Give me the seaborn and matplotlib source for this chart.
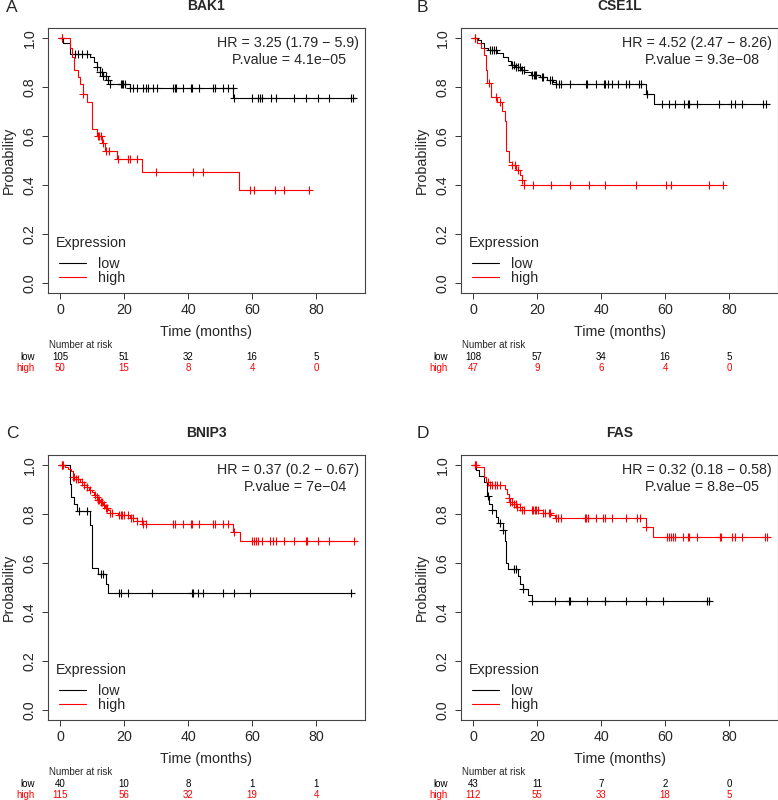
import numpy as np
import pandas as pd
import matplotlib
matplotlib.use("Agg")
import matplotlib.pyplot as plt
import seaborn as sns

# ---- data ----
genes = ["BAK1", "CSE1L", "BNIP3", "FAS"]
letters = ["A", "B", "C", "D"]
hr_text = ["HR = 3.25 (1.79 \u2212 5.9)", "HR = 4.52 (2.47 \u2212 8.26)",
           "HR = 0.37 (0.2 \u2212 0.67)", "HR = 0.32 (0.18 \u2212 0.58)"]
p_text = ["P.value = 4.1e\u221205", "P.value = 9.3e\u221208",
          "P.value = 7e\u221204", "P.value = 8.8e\u221205"]
risk_times = [0, 20, 40, 60, 80]

# A - BAK1
a_low_t = [0, 1, 3, 9.4, 10.5, 11.5, 12.5, 13.5, 14.5, 15.6, 21.9, 54.2, 92.5]
a_low_s = [1.0, 0.98, 0.935, 0.92, 0.90, 0.88, 0.86, 0.845, 0.83, 0.81, 0.795, 0.755, 0.755]
a_low_c = [0.5, 4.7, 5.7, 6.8, 8.5, 11.5, 12.5, 13, 13.5, 14.4, 15.1, 15.6, 19, 19.4, 19.8,
           20.3, 21.9, 22.7, 24, 25.8, 26.8, 27.6, 29, 30.2, 35.4, 35.8, 36.3, 38.3, 40.8,
           41.3, 43.5, 47.9, 48.4, 51, 52.4, 53.9, 54.5, 60.1, 62, 62.5, 63, 65.8, 67.5,
           73.1, 76.9, 80.7, 83.9, 91, 91.4]
a_high_t = [0, 3.1, 3.6, 4.4, 5.7, 6.3, 7.3, 8.5, 9.9, 11.5, 13, 14, 17.9, 25.7, 56, 77.9]
a_high_s = [1.0, 0.96, 0.92, 0.87, 0.84, 0.81, 0.77, 0.74, 0.63, 0.60, 0.57, 0.54, 0.505,
            0.455, 0.38, 0.38]
a_high_c = [0.5, 7.3, 11.8, 12.3, 12.8, 13.5, 14.4, 15.4, 18.2, 21.4, 21.9, 24.2, 29.9,
            41.5, 44.8, 59.4, 60.6, 67.2, 70.1, 77.9]
a_risk_low = [105, 51, 32, 16, 5]
a_risk_high = [50, 15, 8, 4, 0]

# B - CSE1L
b_low_t = [0, 1.5, 2.5, 3.5, 4.7, 7.5, 9.5, 11, 12, 13, 15, 16, 18, 21, 23, 25, 26,
           54.2, 56.5, 92.5]
b_low_s = [1.0, 0.99, 0.98, 0.96, 0.95, 0.94, 0.92, 0.905, 0.89, 0.88, 0.87, 0.86, 0.85,
           0.84, 0.83, 0.82, 0.81, 0.77, 0.73, 0.73]
b_low_c = [0.5, 5.2, 5.9, 6.6, 7.3, 12.2, 12.7, 13.3, 14.1, 14.6, 15.4, 15.8, 18.5, 19,
           19.4, 19.8, 21.5, 21.9, 24, 24.8, 26, 26.9, 27.6, 30.2, 35.2, 35.7, 38.3, 40.8,
           41.3, 42.2, 43.5, 45.3, 47.9, 48.8, 51.9, 52.6, 54.3, 59.2, 61.2, 63, 65.8, 67.2,
           67.5, 70.1, 77, 80.7, 81.8, 83.9, 90.6, 91.6]
b_high_t = [0, 1.2, 2.6, 3.4, 4.2, 4.4, 5.7, 7.5, 9.1, 9.9, 10.4, 11.3, 12.3, 13.3, 14.6,
            15.4, 15.9, 78]
b_high_s = [1.0, 0.98, 0.96, 0.93, 0.87, 0.815, 0.76, 0.74, 0.70, 0.66, 0.54, 0.495, 0.48,
            0.46, 0.44, 0.42, 0.40, 0.40]
b_high_c = [0.5, 4.9, 7.1, 8.5, 12.3, 13, 14.1, 15.4, 15.9, 18.8, 24.3, 30.2, 36.3, 41.1,
            51, 60.2, 62, 73.6, 78]
b_risk_low = [108, 57, 34, 16, 5]
b_risk_high = [47, 9, 6, 4, 0]

# C - BNIP3
c_low_t = [0, 3.1, 3.3, 4.4, 5.2, 9.4, 10.1, 12, 14.4, 15.1, 91.5]
c_low_s = [1.0, 0.92, 0.87, 0.84, 0.81, 0.755, 0.578, 0.555, 0.514, 0.478, 0.478]
c_low_c = [0.5, 6, 8.5, 12.8, 13.5, 18.5, 19, 21.4, 28.6, 41.4, 41.7, 43.2, 44.8, 51,
           54.5, 59.4, 91]
c_high_t = [0, 1.5, 2.5, 3.3, 4.0, 5.0, 6.3, 7.5, 8.3, 9.2, 9.9, 10.7, 11.5, 12.0, 12.5,
            13.3, 14.1, 15.0, 15.6, 18.2, 21.9, 24.0, 25.8, 53.9, 56.1, 92.5]
c_high_s = [1.0, 0.99, 0.982, 0.973, 0.952, 0.943, 0.93, 0.918, 0.908, 0.898, 0.888, 0.878,
            0.867, 0.857, 0.847, 0.837, 0.826, 0.816, 0.803, 0.796, 0.782, 0.769, 0.758,
            0.728, 0.688, 0.688]
c_high_c = [0.5, 1, 4, 4.4, 5, 5.7, 6.8, 7.5, 8.5, 9.4, 10.9, 11.5, 12, 12.3, 12.7, 13.2,
            13.8, 14.3, 14.8, 15.6, 16.1, 18.4, 19, 19.5, 20, 21.4, 22.1, 22.7, 24.2, 25.5,
            26, 26.8, 35.4, 35.9, 38.3, 40.8, 41.3, 43.5, 47.7, 48.4, 50.8, 52.4, 54.5,
            60.1, 60.6, 61.3, 61.8, 63.2, 65.6, 66.5, 67.5, 70, 73.1, 76.9, 77.3, 80.7,
            83.9, 91.9]
c_risk_low = [40, 10, 8, 1, 1]
c_risk_high = [115, 56, 32, 19, 4]

# D - FAS
d_low_t = [0, 0.9, 2.0, 3.5, 4.4, 5.1, 5.8, 7.2, 7.9, 9.3, 10.0, 10.3, 10.8, 14.0, 14.8,
           15.5, 17.1, 18.3, 74]
d_low_s = [1.0, 0.977, 0.953, 0.93, 0.872, 0.84, 0.814, 0.788, 0.762, 0.735, 0.69, 0.6,
           0.575, 0.545, 0.515, 0.495, 0.47, 0.445, 0.445]
d_low_c = [0.5, 4.7, 6, 8.3, 9.4, 12.8, 13.3, 15.7, 18.5, 25.5, 30, 30.3, 35.7, 41.1,
           41.4, 47.7, 54, 59.4, 73.1, 73.8]
d_high_t = [0, 0.9, 3.4, 4.2, 5.2, 9.9, 10.6, 11.1, 11.7, 12.3, 13.5, 14.8, 21.9, 24.5,
            25.7, 54.0, 56.3, 92.5]
d_high_s = [1.0, 0.99, 0.952, 0.932, 0.918, 0.9, 0.88, 0.865, 0.85, 0.84, 0.83, 0.816,
            0.805, 0.795, 0.782, 0.748, 0.707, 0.707]
d_high_c = [0.5, 0.8, 4.7, 5.2, 6, 7, 7.4, 8.3, 11.2, 11.7, 12.2, 12.7, 13.3, 13.8, 14.6,
            15.4, 15.8, 18.5, 18.9, 19.4, 19.8, 20.4, 21.9, 22.4, 23.8, 24.2, 26, 26.6,
            27.4, 35.1, 35.4, 36, 38.4, 40.6, 41.1, 43.5, 47.9, 51.3, 52.1, 54.2, 60.6,
            61.2, 61.9, 62.5, 63.2, 65.6, 67.2, 67.5, 70.1, 77.2, 77.5, 80.8, 81.8, 83.9,
            91.2, 92]
d_risk_low = [43, 11, 7, 2, 0]
d_risk_high = [112, 55, 33, 18, 5]

panels = [
    (a_low_t, a_low_s, a_low_c, a_high_t, a_high_s, a_high_c, a_risk_low, a_risk_high),
    (b_low_t, b_low_s, b_low_c, b_high_t, b_high_s, b_high_c, b_risk_low, b_risk_high),
    (c_low_t, c_low_s, c_low_c, c_high_t, c_high_s, c_high_c, c_risk_low, c_risk_high),
    (d_low_t, d_low_s, d_low_c, d_high_t, d_high_s, d_high_c, d_risk_low, d_risk_high),
]

sns.set_style("white")
plt.rcParams['font.family'] = ['Liberation Sans', 'DejaVu Sans']

RED = "#FF0000"
BLK = "#000000"
FS = 10.3


def surv_at(t, s, c):
    t = np.asarray(t)
    idx = np.searchsorted(t, c, side="right") - 1
    return np.asarray(s)[idx]


def draw_curve(ax, t, s, c, color):
    df = pd.DataFrame({"time": t, "surv": s})
    sns.lineplot(data=df, x="time", y="surv", drawstyle="steps-post", estimator=None,
                 color=color, linewidth=0.8, ax=ax)
    cens = pd.DataFrame({"time": c, "surv": surv_at(t, s, c)})
    sns.scatterplot(data=cens, x="time", y="surv", marker="+", s=28, linewidth=0.8,
                    color=color, ax=ax)


fig = plt.figure(figsize=(7.78, 8.0), dpi=100)
W, H = 778, 800
boxes = [(48, 28), (461, 28), (48, 455), (461, 455)]
aw, ah = 317, 265

for i, (ltx, lty) in enumerate(boxes):
    ax = fig.add_axes([ltx / W, 1 - (lty + ah) / H, aw / W, ah / H])
    lt, ls, lc, ht, hs, hc, rl, rh = panels[i]
    draw_curve(ax, lt, ls, lc, BLK)
    draw_curve(ax, ht, hs, hc, RED)

    ax.set_xlim(-3.75, 95.3)
    ax.set_ylim(-0.04, 1.04)
    ax.set_xticks([0, 20, 40, 60, 80])
    ax.set_yticks([0.0, 0.2, 0.4, 0.6, 0.8, 1.0])
    ax.set_yticklabels(["0.0", "0.2", "0.4", "0.6", "0.8", "1.0"], rotation=90, va="center")
    ax.tick_params(axis="both", length=4, width=0.7, labelsize=FS, color="#333333",
                   direction="out", left=True, bottom=True)
    ax.tick_params(axis="y", pad=4)
    ax.tick_params(axis="x", pad=3)
    for sp in ax.spines.values():
        sp.set_linewidth(0.8)
        sp.set_color("#444444")
    ax.set_xlabel("Time (months)", fontsize=FS, labelpad=6)
    ax.set_ylabel("Probability", fontsize=FS, labelpad=5)

    ax.text(0.5, 1.083, genes[i], transform=ax.transAxes, ha="center", va="center",
            fontsize=10, fontweight="bold")
    fig.text((ltx - 42) / W if i % 2 == 0 else (ltx - 44) / W, 1 - (lty - 21) / H,
             letters[i], ha="left", va="center", fontsize=12.5)

    ax.text(0.981, 0.943, hr_text[i], transform=ax.transAxes, ha="right", va="center",
            fontsize=FS)
    ax.text(0.94, 0.879, p_text[i], transform=ax.transAxes, ha="right", va="center",
            fontsize=FS)

    # legend
    ax.text(0.025, 0.189, "Expression", transform=ax.transAxes, ha="left", va="center",
            fontsize=FS)
    handles = [plt.Line2D([], [], color=BLK, lw=0.8), plt.Line2D([], [], color=RED, lw=0.8)]
    ax.legend(handles, ["low", "high"], loc="center left", bbox_to_anchor=(0.035, 0.083),
              frameon=False, fontsize=FS, handlelength=1.9, handletextpad=0.85,
              labelspacing=0.02, borderpad=0, borderaxespad=0)

    # number at risk table
    tr = ax.get_xaxis_transform()
    ax.text(-3.4, -0.196, "Number at risk", transform=tr, ha="left", va="center",
            fontsize=7, clip_on=False)
    ax.text(-7.8, -0.240, "low", transform=tr, ha="right", va="center", fontsize=7,
            color=BLK, clip_on=False)
    ax.text(-7.8, -0.283, "high", transform=tr, ha="right", va="center", fontsize=7,
            color=RED, clip_on=False)
    for tm, nl, nh in zip(risk_times, rl, rh):
        ax.text(tm, -0.240, str(nl), transform=tr, ha="center", va="center", fontsize=7,
                color=BLK, clip_on=False)
        ax.text(tm, -0.283, str(nh), transform=tr, ha="center", va="center", fontsize=7,
                color=RED, clip_on=False)

fig.savefig("out.png", dpi=100)
